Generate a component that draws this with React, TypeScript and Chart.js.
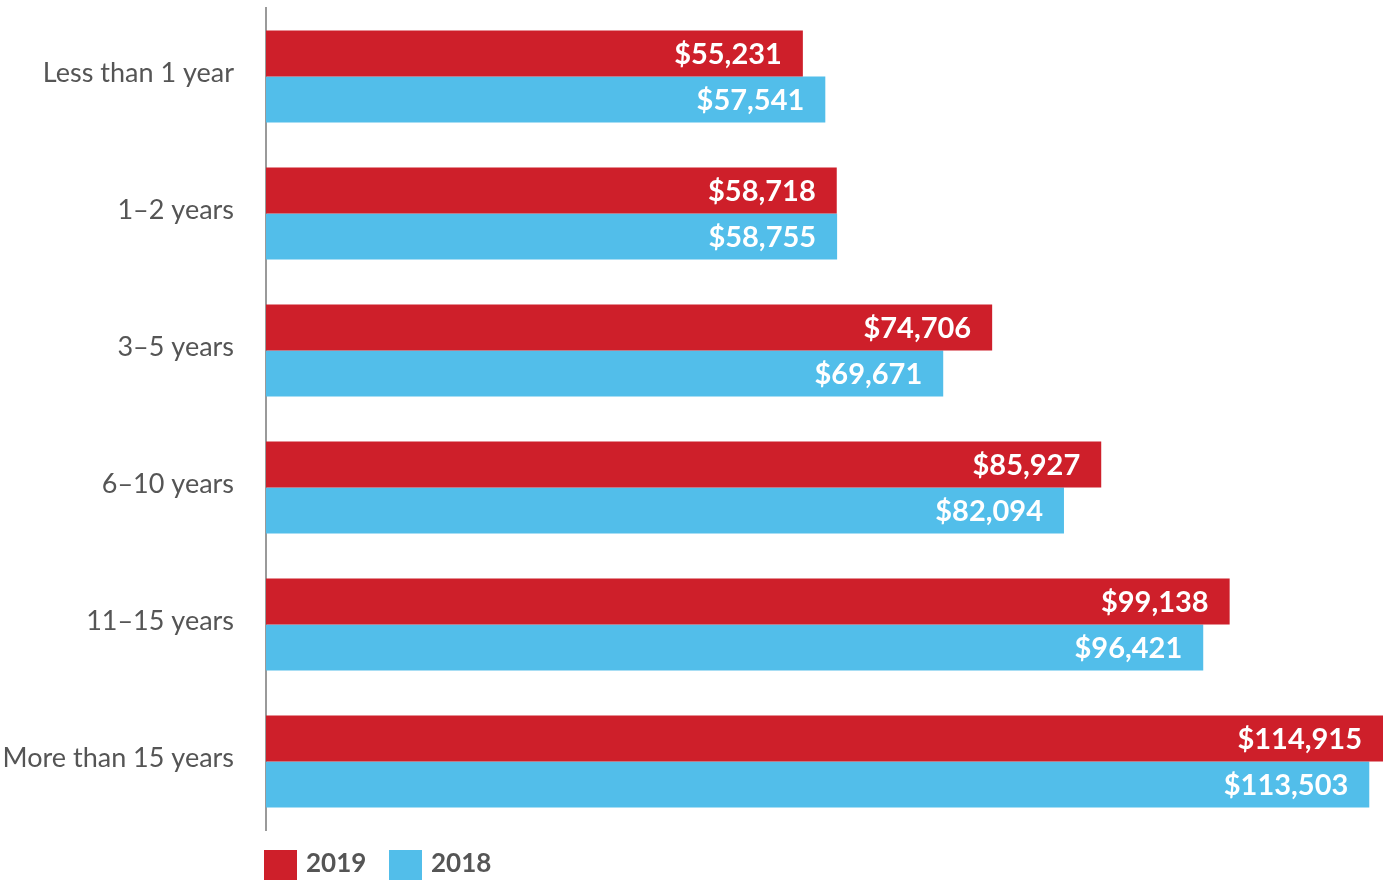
import React, { useEffect, useRef } from "react";
import { Chart, registerables } from "chart.js";

Chart.register(...registerables);

const categories = ["Less than 1 year", "1–2 years", "3–5 years", "6–10 years", "11–15 years", "More than 15 years"];
const values2019 = [55231, 58718, 74706, 85927, 99138, 114915];
const values2018 = [57541, 58755, 69671, 82094, 96421, 113503];
const seriesNames = ["2019", "2018"];
const colors = ["#CE1F2A", "#52BEEA"];

const FONT = "'Lato', 'Open Sans', sans-serif";

const valueLabels = {
  id: "valueLabels",
  afterDatasetsDraw(chart: any) {
    const ctx = chart.ctx;
    ctx.save();
    ctx.font = `bold 29px ${FONT}`;
    ctx.fillStyle = "#ffffff";
    ctx.textAlign = "right";
    ctx.textBaseline = "middle";
    chart.data.datasets.forEach((ds: any, di: number) => {
      const meta = chart.getDatasetMeta(di);
      meta.data.forEach((bar: any, i: number) => {
        const v = ds.data[i] as number;
        ctx.fillText("$" + v.toLocaleString("en-US"), bar.x - 21, bar.y + 1);
      });
    });
    ctx.restore();
  },
};

const customLegend = {
  id: "customLegend",
  afterDraw(chart: any) {
    const ctx = chart.ctx;
    ctx.save();
    ctx.font = `bold 26px ${FONT}`;
    ctx.textBaseline = "middle";
    ctx.textAlign = "left";
    const starts = [264, 389];
    seriesNames.forEach((name, i) => {
      ctx.fillStyle = colors[i];
      ctx.fillRect(starts[i], 850, 33, 30);
      ctx.fillStyle = "#555555";
      ctx.fillText(name, starts[i] + 42, 864);
    });
    ctx.restore();
  },
};

export default function App() {
  const ref = useRef<HTMLCanvasElement>(null);
  useEffect(() => {
    if (!ref.current) return;
    const chart = new Chart(ref.current, {
      type: "bar",
      data: {
        labels: categories,
        datasets: [
          { label: seriesNames[0], data: values2019, backgroundColor: colors[0], categoryPercentage: 0.672, barPercentage: 1 },
          { label: seriesNames[1], data: values2018, backgroundColor: colors[1], categoryPercentage: 0.672, barPercentage: 1 },
        ],
      },
      options: {
        indexAxis: "y",
        animation: false,
        responsive: true,
        maintainAspectRatio: false,
        layout: { padding: { top: 8, right: 0, bottom: 50, left: 0 } },
        plugins: { legend: { display: false }, tooltip: { enabled: false } },
        scales: {
          x: { display: false, min: 0, max: 114915 },
          y: {
            grid: { display: false, drawTicks: false },
            border: { display: true, color: "#9a9a9a", width: 2 },
            ticks: { color: "#555555", font: { family: FONT, size: 27 }, padding: 32, labelOffset: -3 },
            afterFit: (scale: any) => {
              scale.width = 266;
              scale.paddingTop = 0;
              scale.paddingBottom = 0;
            },
          },
        },
      },
      plugins: [valueLabels, customLegend],
    });
    return () => chart.destroy();
  }, []);
  return (
    <div style={{ position: "fixed", left: 0, top: 0, width: 1383, height: 880, background: "#fff" }}>
      <canvas ref={ref} />
    </div>
  );
}
